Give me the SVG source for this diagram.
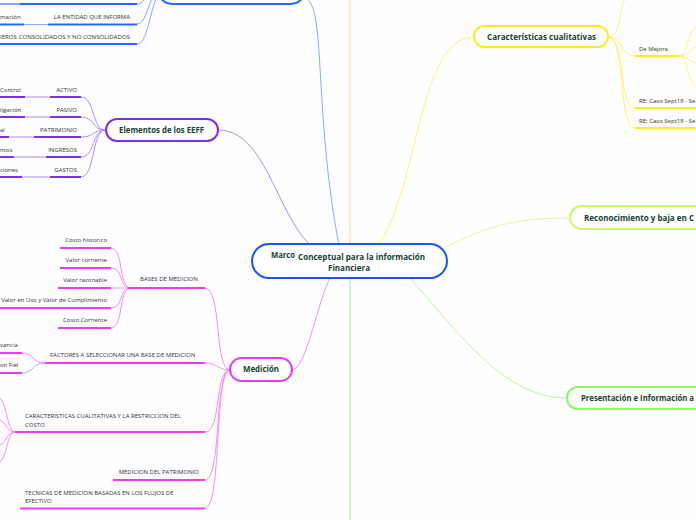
<svg xmlns="http://www.w3.org/2000/svg" width="696" height="520" viewBox="0 0 696 520">
<style>
.bg{fill:#fefefe}
.t{font-family:"Open Sans","Liberation Sans",sans-serif;font-size:6px;fill:#333}
.e{text-anchor:end}
.n{font-family:"Open Sans","Liberation Sans",sans-serif;font-weight:bold;font-size:8.5px;fill:#173f30}
.c{text-anchor:middle}
.cn{fill:none;stroke-width:1}
.ul{fill:none;stroke-width:2}
.blue{stroke:#2a66ff}.bluec{stroke:#8aa8ff}
.pur{stroke:#7a2ef2}.purc{stroke:#ad8cf7}
.mag{stroke:#e83cf0}.magc{stroke:#f28ef7}
.yel{stroke:#ffec1f}.yelc{stroke:#fff27a}
.lime{stroke:#cdf56e}.limec{stroke:#dcf7a0}
.grn{stroke:#8ef26a}.grnc{stroke:#b6f5a0}
.box{fill:#fff;stroke-width:2}
</style>
<rect class="bg" x="0" y="0" width="696" height="520"/>
<g id="connectors">
<line x1="350" y1="0" x2="350" y2="245" stroke="#fbd9a8" stroke-width="1.2"/>
<line x1="350" y1="277" x2="350" y2="520" stroke="#b5f0a5" stroke-width="1.2"/>
<path class="cn bluec" d="M304,-2 C318,0 318,40 322,100 C326,170 334,220 339,245"/>
<path class="cn bluec" d="M137,4 C146,4 146,-10 160,-12"/>
<path class="cn bluec" d="M137,24 C148,24 148,-6 160,-10"/>
<path class="cn bluec" d="M137,44 C150,44 150,-4 162,-8"/>
<path class="cn purc" d="M218,130 C265,130 275,210 310,245"/>
<path class="cn purc" d="M81,97 C95,97 92,130 105,130"/>
<path class="cn purc" d="M81,117 C95,117 92,130 105,130"/>
<path class="cn purc" d="M81,137 C95,137 92,130 105,130"/>
<path class="cn purc" d="M81,157 C95,157 92,130 105,130"/>
<path class="cn purc" d="M81,177 C95,177 92,130 105,130"/>
<line class="cn purc" x1="25" y1="97" x2="50" y2="97"/>
<line class="cn purc" x1="25" y1="117" x2="50" y2="117"/>
<line class="cn purc" x1="9" y1="137" x2="34" y2="137"/>
<line class="cn purc" x1="14" y1="157" x2="46" y2="157"/>
<line class="cn purc" x1="22" y1="177" x2="50" y2="177"/>
<path class="cn magc" d="M292,370 C306,370 318,300 330,278"/>
<path class="cn magc" d="M205,288 C222,288 214,370 230,370"/>
<path class="cn magc" d="M205,363 C218,363 218,370 230,370"/>
<path class="cn magc" d="M205,432 C222,432 214,370 230,370"/>
<path class="cn magc" d="M205,480 C222,480 214,370 230,370"/>
<path class="cn magc" d="M205,508 C222,508 214,370 230,370"/>
<path class="cn magc" d="M111,248 C124,248 118,288 131,288"/>
<path class="cn magc" d="M111,268 C124,268 118,288 131,288"/>
<path class="cn magc" d="M111,288 L131,288"/>
<path class="cn magc" d="M111,308 C124,308 118,288 131,288"/>
<path class="cn magc" d="M111,328 C124,328 118,288 131,288"/>
<path class="cn magc" d="M22,353 C34,353 32,363 45,363"/>
<path class="cn magc" d="M22,373 C34,373 32,363 45,363"/>
<path class="cn magc" d="M15,432 C6,432 8,398 -4,396"/>
<path class="cn magc" d="M15,432 C6,432 6,420 -4,418"/>
<path class="cn magc" d="M15,432 C6,432 6,446 -4,446"/>
<path class="cn magc" d="M15,432 C6,432 8,462 -4,464"/>
<path class="cn yelc" d="M378,245 C420,185 418,37 474,37"/>
<path class="cn yelc" d="M608,37 C622,37 618,8 626,-2"/>
<path class="cn yelc" d="M608,37 C624,37 620,56 635,56"/>
<path class="cn yelc" d="M608,37 C626,37 618,108 635,108"/>
<path class="cn yelc" d="M608,37 C626,37 618,128 635,128"/>
<path class="cn yelc" d="M678,56 C690,56 686,28 698,27"/>
<path class="cn yelc" d="M678,56 C690,56 688,47 698,47"/>
<path class="cn yelc" d="M678,56 C690,56 688,63 698,63"/>
<path class="cn yelc" d="M678,56 C690,56 686,86 698,86"/>
<path class="cn limec" d="M440,250 C480,230 505,218 570,218"/>
<path class="cn grnc" d="M410,278 C460,335 505,398 567,398"/>
</g>
<g id="node-top">
<rect class="box blue" x="158" y="-30" width="147" height="34" rx="14"/>
</g>
<g id="node-top-c1">
<line class="ul blue" x1="20" y1="4" x2="137" y2="4"/>
<line class="ul bluec" x1="0" y1="4" x2="20" y2="4"/>
</g>
<g id="node-entidad">
<text class="t e" x="130" y="19">LA ENTIDAD QUE INFORMA</text>
<line class="ul blue" x1="48" y1="24.5" x2="137" y2="24.5"/>
</g>
<g id="node-informacion">
<text class="t" x="0" y="19">mación</text>
<line class="ul blue" x1="0" y1="24.5" x2="24" y2="24.5"/>
<line class="cn bluec" x1="24" y1="24.5" x2="48" y2="24.5"/>
</g>
<g id="node-consolidados">
<text class="t e" x="130" y="38.5" textLength="130" lengthAdjust="spacingAndGlyphs">IEROS CONSOLIDADOS Y NO CONSOLIDADOS</text>
<line class="ul blue" x1="0" y1="44" x2="137" y2="44"/>
</g>
<g id="node-elementos">
<rect class="box pur" x="106" y="119" width="112" height="22" rx="11"/>
<text class="n" x="119" y="133" textLength="85" lengthAdjust="spacingAndGlyphs">Elementos de los EEFF</text>
</g>
<g id="node-activo">
<text class="t e" x="77" y="92">ACTIVO</text>
<line class="ul pur" x1="50" y1="97" x2="81" y2="97"/>
<text class="t" x="0" y="92">Control</text>
<line class="ul pur" x1="0" y1="97" x2="25" y2="97"/>
</g>
<g id="node-pasivo">
<text class="t e" x="77" y="112">PASIVO</text>
<line class="ul pur" x1="50" y1="117" x2="81" y2="117"/>
<text class="t" x="0" y="112">ligación</text>
<line class="ul pur" x1="0" y1="117" x2="25" y2="117"/>
</g>
<g id="node-patrimonio">
<text class="t e" x="77" y="132">PATRIMONIO</text>
<line class="ul pur" x1="34" y1="137" x2="81" y2="137"/>
<text class="t" x="0" y="132">al</text>
<line class="ul pur" x1="0" y1="137" x2="9" y2="137"/>
</g>
<g id="node-ingresos">
<text class="t e" x="77" y="152">INGRESOS</text>
<line class="ul pur" x1="46" y1="157" x2="81" y2="157"/>
<text class="t" x="0" y="152">ntos</text>
<line class="ul pur" x1="0" y1="157" x2="14" y2="157"/>
</g>
<g id="node-gastos">
<text class="t e" x="77" y="172">GASTOS</text>
<line class="ul pur" x1="50" y1="177" x2="81" y2="177"/>
<text class="t" x="0" y="172">ciones</text>
<line class="ul pur" x1="0" y1="177" x2="22" y2="177"/>
</g>
<g id="node-center">
<rect class="box" stroke="#1a55f2" x="252" y="244" width="195" height="34" rx="17"/>
<text class="n" x="271" y="258" textLength="24" lengthAdjust="spacingAndGlyphs">Marco</text>
<text class="n" x="298" y="260" textLength="127" lengthAdjust="spacingAndGlyphs">Conceptual para la información</text>
<text class="n" x="328" y="271" textLength="42" lengthAdjust="spacingAndGlyphs">Financiera</text>
</g>
<g id="node-medicion">
<rect class="box mag" x="230" y="358" width="62" height="23" rx="11.5"/>
<text class="n" x="243" y="372" textLength="36" lengthAdjust="spacingAndGlyphs">Medición</text>
</g>
<g id="node-bases">
<text class="t" x="140" y="281">BASES DE MEDICION</text>
<line class="ul mag" x1="128" y1="288" x2="205" y2="288"/>
</g>
<g id="node-costo-historico">
<text class="t e" x="107" y="242">Costo historico</text>
<line class="ul mag" x1="60" y1="248" x2="111" y2="248"/>
</g>
<g id="node-valor-corriente">
<text class="t e" x="107" y="262">Valor corriente</text>
<line class="ul mag" x1="60" y1="268" x2="111" y2="268"/>
</g>
<g id="node-valor-razonable">
<text class="t e" x="107" y="282">Valor razonable</text>
<line class="ul mag" x1="58" y1="288" x2="111" y2="288"/>
</g>
<g id="node-valor-uso">
<text class="t e" x="107" y="302">Valor en Uso y Valor de Cumplimiento</text>
<line class="ul mag" x1="0" y1="308" x2="111" y2="308"/>
</g>
<g id="node-costo-corriente">
<text class="t e" x="107" y="322">Costo Corriente</text>
<line class="ul mag" x1="58" y1="328" x2="111" y2="328"/>
</g>
<g id="node-factores">
<text class="t" x="50" y="357">FACTORES A SELECCIONAR UNA BASE DE MEDICION</text>
<line class="ul mag" x1="45" y1="363" x2="205" y2="363"/>
</g>
<g id="node-relevancia">
<text class="t" x="0" y="347">vancia</text>
<line class="ul mag" x1="0" y1="353" x2="22" y2="353"/>
</g>
<g id="node-fiel">
<text class="t" x="0" y="367">on Fiel</text>
<line class="ul mag" x1="0" y1="373" x2="22" y2="373"/>
</g>
<g id="node-caract-costo">
<text class="t" x="25" y="418">CARACTERISTICAS CUALITATIVAS Y LA RESTRICCION DEL</text>
<text class="t" x="25" y="426.5">COSTO</text>
<line class="ul mag" x1="15" y1="432" x2="205" y2="432"/>
</g>
<g id="node-patrimonio-med">
<text class="t e" x="199" y="474">MEDICION DEL PATRIMONIO</text>
<line class="ul mag" x1="113" y1="480" x2="205" y2="480"/>
</g>
<g id="node-tecnicas">
<text class="t" x="25" y="495">TECNICAS DE MEDICION BASADAS EN LOS FLUJOS DE</text>
<text class="t" x="25" y="503">EFECTIVO</text>
<line class="ul mag" x1="20" y1="508.5" x2="205" y2="508.5"/>
</g>
<g id="node-caracteristicas">
<rect class="box yel" x="474" y="26" width="134" height="21" rx="10.5"/>
<text class="n" x="487" y="40" textLength="109" lengthAdjust="spacingAndGlyphs">Características cualitativas</text>
</g>
<g id="node-mejora">
<text class="t" x="639" y="51">De Mejora</text>
<line class="ul yel" x1="635" y1="56" x2="678" y2="56"/>
</g>
<g id="node-re1">
<text class="t" x="639" y="103">RE: Caso Sept18 - Se</text>
<line class="ul yel" x1="635" y1="108" x2="696" y2="108"/>
</g>
<g id="node-re2">
<text class="t" x="639" y="123">RE: Caso Sept18 - Se</text>
<line class="ul yel" x1="635" y1="128" x2="696" y2="128"/>
</g>
<g id="node-reconocimiento">
<rect class="box lime" x="570" y="206" width="160" height="23" rx="11.5"/>
<text class="n" x="584" y="221" textLength="110" lengthAdjust="spacingAndGlyphs">Reconocimiento y baja en  C</text>
</g>
<g id="node-presentacion">
<rect class="box grn" x="567" y="387" width="160" height="22" rx="11"/>
<text class="n" x="581" y="401" textLength="113" lengthAdjust="spacingAndGlyphs">Presentación e Información a</text>
</g>
</svg>
